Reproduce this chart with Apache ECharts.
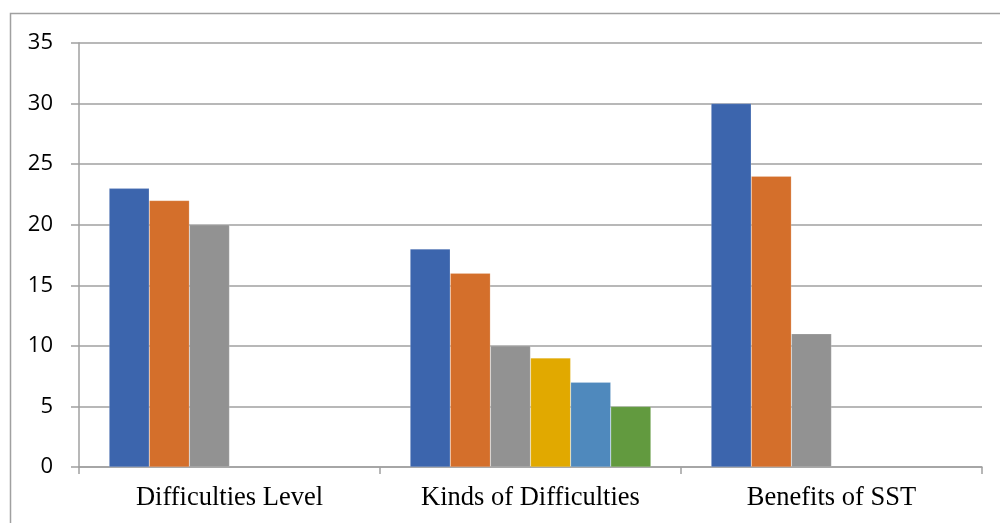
<!DOCTYPE html>
<html>
<head>
<meta charset="utf-8">
<script src="https://cdn.jsdelivr.net/npm/echarts@6/dist/echarts.min.js"></script>
<style>
  html, body { margin: 0; padding: 0; background: #ffffff; }
  #chart { width: 1000px; height: 523px; }
</style>
</head>
<body>
<div id="chart"></div>
<script>
// Categories along the x axis
const categories = ['Difficulties Level', 'Kinds of Difficulties', 'Benefits of SST'];

// Values per series (null where a group has no bar in that slot)
const series1 = [23, 18, 30];
const series2 = [22, 16, 24];
const series3 = [20, 10, 11];
const series4 = [null, 9, null];
const series5 = [null, 7, null];
const series6 = [null, 5, null];

const seriesValues = [series1, series2, series3, series4, series5, series6];
const seriesColors = ['#3C65AD', '#D46F2B', '#929292', '#E1A900', '#4F89BD', '#629A3F'];

const yTicks = { min: 0, max: 35, interval: 5 };

const chart = echarts.init(document.getElementById('chart'), null, { renderer: 'canvas' });

chart.setOption({
  backgroundColor: '#ffffff',
  animation: false,
  graphic: [{
    type: 'rect',
    shape: { x: 10.5, y: 13.5, width: 1000, height: 520 },
    style: { fill: 'none', stroke: '#A0A0A0', lineWidth: 1.5 },
    silent: true,
    z: 0
  }],
  grid: { left: 79, right: 18, top: 43, bottom: 56, containLabel: false },
  xAxis: {
    type: 'category',
    data: categories,
    axisLine: { show: true, lineStyle: { color: '#A0A0A0', width: 1.5 } },
    axisTick: { show: true, length: 7, alignWithLabel: false, lineStyle: { color: '#A0A0A0', width: 1.5 } },
    axisLabel: {
      margin: 18,
      color: '#000000',
      fontFamily: '"Liberation Serif", "Times New Roman", serif',
      fontSize: 26.5
    },
    splitLine: { show: false }
  },
  yAxis: {
    type: 'value',
    min: yTicks.min,
    max: yTicks.max,
    interval: yTicks.interval,
    axisLine: { show: true, lineStyle: { color: '#A0A0A0', width: 1.5 } },
    axisTick: { show: true, inside: false, length: 8, lineStyle: { color: '#A0A0A0', width: 1.5 } },
    axisLabel: {
      margin: 26,
      color: '#000000',
      fontFamily: '"Open Sans", "DejaVu Sans", sans-serif',
      fontSize: 22
    },
    splitLine: { show: true, lineStyle: { color: '#A0A0A0', width: 1.5 } }
  },
  series: seriesValues.map((vals, i) => ({
    type: 'bar',
    name: 'Series ' + (i + 1),
    data: vals.map(v => (v === null ? '-' : v)),
    barGap: '0%',
    barCategoryGap: '20%',
    itemStyle: { color: seriesColors[i], borderColor: 'rgba(255,255,255,0.35)', borderWidth: 0.5 }
  }))
});
</script>
</body>
</html>
